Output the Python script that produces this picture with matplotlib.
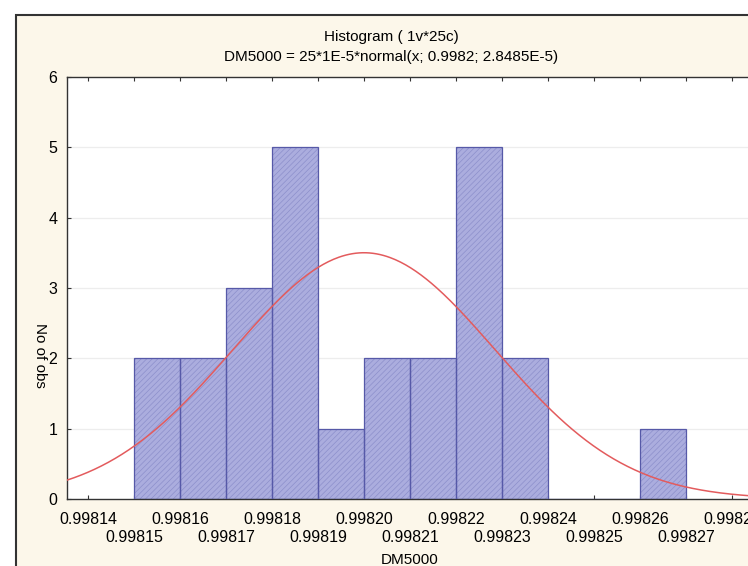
import numpy as np
import matplotlib
matplotlib.use("Agg")
import matplotlib.pyplot as plt
from matplotlib.patches import Rectangle

plt.rcParams['font.family'] = ['Liberation Sans', 'DejaVu Sans']
plt.rcParams['hatch.linewidth'] = 0.5

# --------------------------------------------------------------
# Data
# --------------------------------------------------------------
bin_edges = [0.99815, 0.99816, 0.99817, 0.99818, 0.99819, 0.99820, 0.99821,
             0.99822, 0.99823, 0.99824, 0.99825, 0.99826, 0.99827]
counts = [2, 2, 3, 5, 1, 2, 2, 5, 2, 0, 0, 1]
# tick labels alternate between two rows
upper_ticks = [0.99814, 0.99816, 0.99818, 0.99820, 0.99822, 0.99824,
               0.99826, 0.99828]
upper_labels = ['0.99814', '0.99816', '0.99818', '0.99820', '0.99822',
                '0.99824', '0.99826', '0.99828']
lower_ticks = [0.99815, 0.99817, 0.99819, 0.99821, 0.99823, 0.99825,
               0.99827]
lower_labels = ['0.99815', '0.99817', '0.99819', '0.99821', '0.99823',
                '0.99825', '0.99827']
y_ticks = [0, 1, 2, 3, 4, 5, 6]

# fitted normal, as given in the chart title
n_obs = 25
bin_width = 1e-5
fit_mean = 0.9982
fit_sd = 2.8485e-5

title_1 = 'Histogram ( 1v*25c)'
title_2 = 'DM5000 = 25*1E-5*normal(x; 0.9982; 2.8485E-5)'

# --------------------------------------------------------------
# Figure
# --------------------------------------------------------------
W, H = 748, 566
fig = plt.figure(figsize=(W / 100, H / 100), dpi=100)
fig.patch.set_facecolor('white')

# cream panel with dark frame (runs off the right/bottom edge)
frame = Rectangle((16 / W, -0.2), 1.2, 1 - 15 / H + 0.2,
                  transform=fig.transFigure, facecolor='#FCF7EA',
                  edgecolor='#333333', linewidth=1.5, zorder=-10)
fig.add_artist(frame)

ax = fig.add_axes([67 / W, (H - 499) / H, 686 / W, 422 / H])
ax.set_zorder(1)
ax.set_facecolor('white')

widths = np.diff(bin_edges)
lefts = np.array(bin_edges[:-1])
ax.bar(lefts, counts, width=widths, align='edge', color='#ABADDE',
       edgecolor='#8C8FCB', linewidth=0, hatch='//////', zorder=2)
ax.bar(lefts, counts, width=widths, align='edge', fill=False,
       edgecolor='#5659A8', linewidth=0.9, zorder=3)

xmin, xmax = 0.998135435, 0.998284565
xs = np.linspace(xmin, xmax, 400)
pdf = np.exp(-0.5 * ((xs - fit_mean) / fit_sd) ** 2) / (fit_sd * np.sqrt(2 * np.pi))
ax.plot(xs, n_obs * bin_width * pdf, color='#E35B5D', linewidth=1.1, zorder=4)

ax.set_xlim(xmin, xmax)
ax.set_ylim(0, 6)

for yv in y_ticks[1:-1]:
    ax.axhline(yv, color='#EDEDED', linewidth=0.9, zorder=1)

ax.set_xticks(upper_ticks)
ax.set_xticklabels(upper_labels, fontsize=11.5)
ax.set_xticks(lower_ticks, minor=True)
ax.set_xticklabels(lower_labels, minor=True, fontsize=11.5)
ax.set_yticks(y_ticks)
ax.set_yticklabels([str(v) for v in y_ticks], fontsize=11.5)
ax.tick_params(axis='x', which='both', direction='in', length=3, width=0.8,
               top=True, color='#333333')
ax.tick_params(axis='x', which='major', pad=9)
ax.tick_params(axis='x', which='minor', pad=22)
ax.tick_params(axis='y', direction='in', length=3, width=0.8, pad=7,
               color='#333333')

for side in ('top', 'left', 'bottom'):
    ax.spines[side].set_color('#333333')
    ax.spines[side].set_linewidth(1.0)
ax.spines['right'].set_visible(False)

fig.text(391 / W, 1 - 37 / H, title_1, ha='center', va='center', fontsize=11)
fig.text(391 / W, 1 - 57 / H, title_2, ha='center', va='center', fontsize=11)
fig.text(410 / W, 1 - 560 / H, 'DM5000', ha='center', va='center', fontsize=11)
fig.text(40 / W, 1 - 355 / H, 'No of obs', ha='center', va='center',
         rotation=270, fontsize=11)

fig.savefig('out.png', dpi=100)
